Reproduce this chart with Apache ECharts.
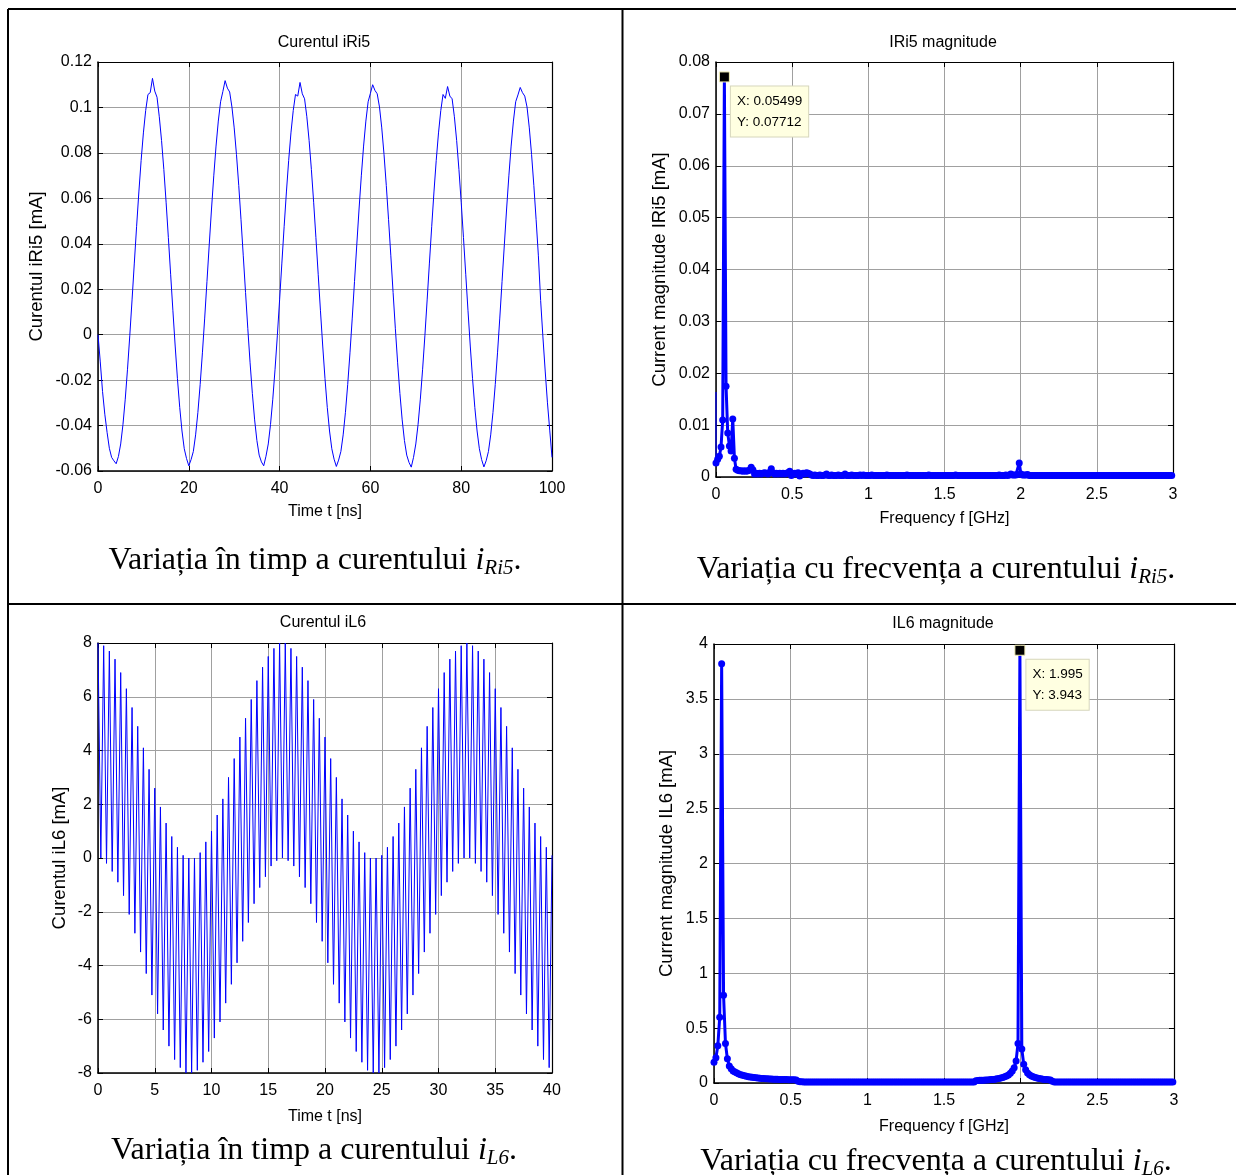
<!DOCTYPE html>
<html><head><meta charset="utf-8">
<script src="https://cdn.jsdelivr.net/npm/echarts@6/dist/echarts.min.js"></script>
<style>html,body{margin:0;padding:0;background:#fff}#c{width:1236px;height:1175px}</style>
</head><body><div id="c"></div>
<script>
// ---------- DATA ----------
// iRi5(t) [mA], sampled every 0.5 ns from 0 to 100 ns
const dtRi5 = 0.5;
const iRi5 = [
 0.0,-0.012,-0.025,-0.035,-0.043,-0.050,-0.054,-0.0555,-0.0568,-0.0536,
 -0.0481,-0.0395,-0.0284,-0.0152,-0.0005,0.0153,0.0315,0.0475,0.0628,0.0767,
 0.0888,0.0986,0.1057,0.1065,0.1128,0.1072,0.1045,0.0959,0.0854,0.0727,
 0.0583,0.0427,0.0266,0.0105,-0.0050,-0.0194,-0.0320,-0.0424,-0.0502,-0.0545,
 -0.0577,-0.0550,-0.0514,-0.0441,-0.0342,-0.0220,-0.0080,0.0073,0.0234,0.0395,
 0.0553,0.0699,0.0830,0.0940,0.1025,0.1070,0.1118,0.1085,0.1068,0.1002,
 0.0910,0.0793,0.0657,0.0506,0.0347,
 0.0185,0.0026,-0.0124,-0.0259,-0.0375,-0.0466,-0.0530,-0.0560,-0.0577,-0.0535,
 -0.0481,-0.0395,-0.0284,-0.0152,-0.0005,0.0153,0.0315,0.0475,0.0628,0.0767,
 0.0888,0.0986,0.1057,0.1050,0.1110,0.1060,0.1038,0.0959,0.0854,0.0727,
 0.0583,0.0427,0.0266,0.0105,-0.0050,-0.0194,-0.0320,-0.0424,-0.0502,-0.0548,
 -0.0580,-0.0552,-0.0514,-0.0441,-0.0342,-0.0220,-0.0080,0.0073,0.0234,0.0395,
 0.0553,0.0699,0.0830,0.0940,0.1025,0.1062,0.1100,0.1075,0.1060,0.1002,
 0.0910,0.0793,0.0657,0.0506,0.0347,
 0.0185,0.0026,-0.0124,-0.0259,-0.0375,-0.0466,-0.0530,-0.0562,-0.0583,-0.0540,
 -0.0481,-0.0395,-0.0284,-0.0152,-0.0005,0.0153,0.0315,0.0475,0.0628,0.0767,
 0.0888,0.0986,0.1057,0.1040,0.1092,0.1050,0.1038,0.0959,0.0854,0.0727,
 0.0583,0.0427,0.0266,0.0105,-0.0050,-0.0194,-0.0320,-0.0424,-0.0502,-0.0550,
 -0.0582,-0.0555,-0.0514,-0.0441,-0.0342,-0.0220,-0.0080,0.0073,0.0234,0.0395,
 0.0553,0.0699,0.0830,0.0940,0.1025,0.1055,0.1088,0.1065,0.1050,0.1002,
 0.0910,0.0793,0.0657,0.0506,0.0347,
 0.0150,-0.0010,-0.0160,-0.0300,-0.0420,-0.0540
];

// |IRi5(f)| [mA], frequency bins of 0.010998 GHz
const dfRi5 = 0.010998;
const magRi5 = [
 .0027,.0034,.0040,.0058,.0110,.07712,.0175,.0085,.0060,.0050,
 .0112,.0036,.0015,.0013,.0012,.0012,.0011,.0012,.0011,.0012,
 .0013,.0019,.0014,.0006,.0007,.0006,.0007,.0006,.0007,.0008,
 .0007,.0006,.0009,.0016,.0008,.0006,.0007,.0006,.0007,.0006,
 .0007,.0006,.0007,.0008,.0011,.0003,.0006,.0007,.0006,.0008,
 .0002,.0006,.0007,.0006,.0008,.0007,.0006,.0004,.0003,.0004,
 .0003,.0003,.0004,.0003,.0003,.0004,.0006,.0003,.0003,.0004,
 .0003,.0003,.0003,.0004,.0003,.0003,.0003,.0006,.0003,.0003,
 .0003,.0004,.0003,.0003,.0003,.0003,.0004,.0003,.0004,.0003,
 .0003,.0003,.0003,.0004,.0003,.0003,.0003,.0003,.0003,.0003,
 .0003,.0003,.0004,.0003,.0003,.0003,.0003,.0003,.0003,.0003,
 .0003,.0003,.0003,.0003,.0004,.0003,.0003,.0003,.0003,.0003,
 .0003,.0003,.0003,.0003,.0003,.0003,.0003,.0004,.0003,.0003,
 .0003,.0003,.0003,.0003,.0003,.0003,.0003,.0003,.0003,.0003,
 .0003,.0003,.0003,.0004,.0003,.0003,.0003,.0003,.0003,.0003,
 .0003,.0003,.0003,.0003,.0003,.0003,.0003,.0003,.0003,.0003,
 .0003,.0003,.0003,.0003,.0003,.0003,.0003,.0003,.0003,.0004,
 .0003,.0003,.0003,.0004,.0003,.0004,.0006,.0004,.0004,.0004,
 .0005,.0027,.0006,.0004,.0004,.0004,.0005,.0003,.0003,.0003,
 .0003,.0003,.0003,.0003,.0003,.0003,.0003,.0003,.0003,.0003,
 .0003,.0003,.0003,.0003,.0003,.0003,.0003,.0003,.0003,.0003,
 .0003,.0003,.0003,.0003,.0003,.0003,.0003,.0003,.0003,.0003,
 .0003,.0003,.0003,.0003,.0003,.0003,.0003,.0003,.0003,.0003,
 .0003,.0003,.0003,.0003,.0003,.0003,.0003,.0003,.0003,.0003,
 .0003,.0003,.0003,.0003,.0003,.0003,.0003,.0003,.0003,.0003,
 .0003,.0003,.0003,.0003,.0003,.0003,.0003,.0003,.0003,.0003,
 .0003,.0003,.0003,.0003,.0003,.0003,.0003,.0003,.0003,.0003,
 .0003,.0003,.0003
];
const dcRi5 = [0.0027, 0.0164];          // thin trace at f = 0
const tipRi5 = {x: 0.05499, y: 0.07712}; // data tip

// iL6(t) [mA], sampled every 0.25 ns from 0 to 40 ns
const dtL6 = 0.25;
const iL6 = [
 8.0,0.0,7.9,-0.2,7.7,-0.5,7.4,-0.9,6.9,-1.4,
 6.3,-2.1,5.6,-2.8,4.9,-3.5,4.1,-4.3,3.3,-5.1,
 2.6,-5.8,1.9,-6.4,1.3,-7.0,0.8,-7.5,0.4,-7.8,
 0.1,-8.0,0.0,-8.0,0.0,-7.9,0.2,-7.6,0.6,-7.2,
 1.0,-6.7,1.6,-6.1,2.2,-5.4,3.0,-4.7,3.7,-3.9,
 4.5,-3.1,5.2,-2.4,5.9,-1.7,6.6,-1.1,7.1,-0.7,
 7.5,-0.3,7.8,-0.1,8.0,0.0,8.0,-0.1,7.8,-0.3,
 7.5,-0.7,7.1,-1.1,6.6,-1.7,5.9,-2.4,5.2,-3.1,
 4.5,-3.9,3.7,-4.7,3.0,-5.4,2.2,-6.1,1.6,-6.7,
 1.0,-7.2,0.6,-7.6,0.2,-7.9,0.0,-8.0,0.0,-8.0,
 0.1,-7.8,0.4,-7.5,0.8,-7.0,1.3,-6.4,1.9,-5.8,
 2.6,-5.1,3.3,-4.3,4.1,-3.5,4.9,-2.8,5.6,-2.1,
 6.3,-1.4,6.9,-0.9,7.4,-0.5,7.7,-0.2,7.9,0.0,
 8.0,0.0,7.9,-0.2,7.7,-0.5,7.4,-0.9,6.9,-1.4,
 6.3,-2.1,5.6,-2.8,4.9,-3.5,4.1,-4.3,3.3,-5.1,
 2.6,-5.8,1.9,-6.4,1.3,-7.0,0.8,-7.5,0.4,-7.8,
 0.1
];

// |IL6(f)| [mA], frequency bins of 0.012469 GHz
const dfL6 = 0.012469;
const magL6 = [
 .19,.23,.34,.60,3.82,.80,.36,.22,.155,.13,
 .11,.10,.09,.082,.076,.071,.066,.062,.058,.055,
 .052,.049,.047,.045,.043,.041,.040,.039,.038,.037,
 .036,.035,.034,.034,.033,.032,.032,.031,.031,.030,
 .030,.029,.029,.028,.015,.012,.011,.010,.010,.010,
 .01,.01,.01,.01,.01,.01,.01,.01,.01,.01,
 .01,.01,.01,.01,.01,.01,.01,.01,.01,.01,
 .01,.01,.01,.01,.01,.01,.01,.01,.01,.01,
 .01,.01,.01,.01,.01,.01,.01,.01,.01,.01,
 .01,.01,.01,.01,.01,.01,.01,.01,.01,.01,
 .01,.01,.01,.01,.01,.01,.01,.01,.01,.01,
 .01,.01,.01,.01,.01,.01,.01,.01,.01,.01,
 .01,.01,.01,.01,.01,.01,.01,.01,.01,.01,
 .01,.01,.01,.01,.01,.01,.01,
 .020,.022,.024,.025,.026,.027,.028,.030,.031,.033,.035,.038,.041,.045,
 .050,.056,.064,.074,.088,.11,.14,.20,.36,3.943,
 .31,.17,.12,.092,.075,.064,.056,.050,.045,.041,.038,.035,.033,.031,.029,.027,.015,
 .01,.01,.01,.01,.01,.01,.01,.01,.01,.01,
 .01,.01,.01,.01,.01,.01,.01,.01,.01,.01,
 .01,.01,.01,.01,.01,.01,.01,.01,.01,.01,
 .01,.01,.01,.01,.01,.01,.01,.01,.01,.01,
 .01,.01,.01,.01,.01,.01,.01,.01,.01,.01,
 .01,.01,.01,.01,.01,.01,.01,.01,.01,.01,
 .01,.01,.01
];
const tipL6 = {x: 1.995, y: 3.943};

// tick values
const xTicksTimeRi5 = [0, 20, 40, 60, 80, 100];
const yTicksRi5 = [-0.06, -0.04, -0.02, 0, 0.02, 0.04, 0.06, 0.08, 0.1, 0.12];
const xTicksFreq = [0, 0.5, 1, 1.5, 2, 2.5, 3];
const yTicksMagRi5 = [0, 0.01, 0.02, 0.03, 0.04, 0.05, 0.06, 0.07, 0.08];
const xTicksTimeL6 = [0, 5, 10, 15, 20, 25, 30, 35, 40];
const yTicksL6 = [-8, -6, -4, -2, 0, 2, 4, 6, 8];
const yTicksMagL6 = [0, 0.5, 1, 1.5, 2, 2.5, 3, 3.5, 4];

// ---------- CHART ----------
const FN = "'Liberation Sans',Arial,sans-serif";
const FR = "'Liberation Sans',Arial,sans-serif";
const FS = "'Liberation Serif','Times New Roman',serif";
const BLUE = '#0000ff';
const GRIDC = '#a0a0a0';
const FSZ = 16;

function fmt(v){ const r = Math.round(v*1e6)/1e6; return String(r === 0 ? 0 : r); }
function rng(t){ return {min: t[0], max: t[t.length-1], interval: +(t[1]-t[0]).toFixed(6)}; }

const panels = [
 {grid:{left:98, top:62, width:454, height:409}, xt:xTicksTimeRi5, yt:yTicksRi5,
  xName:'Time t [ns]', yName:'Curentul iRi5 [mA]', xGap:33, yGap:52,
  title:'Curentul iRi5', tx:324, ty:43},
 {grid:{left:716, top:62, width:457, height:415}, xt:xTicksFreq, yt:yTicksMagRi5,
  xName:'Frequency f [GHz]', yName:'Current magnitude IRi5 [mA]', xGap:34, yGap:47,
  title:'IRi5 magnitude', tx:943, ty:43},
 {grid:{left:98, top:643, width:454, height:430}, xt:xTicksTimeL6, yt:yTicksL6,
  xName:'Time t [ns]', yName:'Curentul iL6 [mA]', xGap:36, yGap:29,
  title:'Curentul iL6', tx:323, ty:623},
 {grid:{left:714, top:644, width:460, height:439}, xt:xTicksFreq, yt:yTicksMagL6,
  xName:'Frequency f [GHz]', yName:'Current magnitude IL6 [mA]', xGap:36, yGap:38,
  title:'IL6 magnitude', tx:943, ty:624}
];

const grid = [], xAxis = [], yAxis = [], graphic = [];
panels.forEach((p, i) => {
  grid.push(Object.assign({containLabel:false, outerBoundsMode:'none'}, p.grid));
  const xr = rng(p.xt), yr = rng(p.yt);
  const tick = {inside:true, length:5, lineStyle:{color:'#000', width:1}};
  xAxis.push(Object.assign({type:'value', gridIndex:i, position:'bottom',
    name:p.xName, nameLocation:'middle', nameGap:p.xGap, nameMoveOverlap:false,
    nameTextStyle:{fontFamily:FN, fontSize:FSZ, color:'#000'},
    axisLine:{onZero:false, lineStyle:{color:'#000', width:1.5}},
    axisTick:tick,
    axisLabel:{fontFamily:FN, fontSize:FSZ, color:'#000', margin:10, formatter:fmt},
    splitLine:{show:true, lineStyle:{color:GRIDC, width:1}}}, xr));
  xAxis.push(Object.assign({type:'value', gridIndex:i, position:'top',
    axisLine:{onZero:false, lineStyle:{color:'#000', width:1.2}},
    axisTick:tick, axisLabel:{show:false}, splitLine:{show:false}}, xr));
  yAxis.push(Object.assign({type:'value', gridIndex:i, position:'left',
    name:p.yName, nameLocation:'middle', nameRotate:90, nameGap:p.yGap, nameMoveOverlap:false,
    nameTextStyle:{fontFamily:FR, fontSize:18.5, color:'#000'},
    axisLine:{onZero:false, lineStyle:{color:'#000', width:1.5}},
    axisTick:tick,
    axisLabel:{fontFamily:FN, fontSize:FSZ, color:'#000', margin:6, formatter:fmt},
    splitLine:{show:true, lineStyle:{color:GRIDC, width:1}}}, yr));
  yAxis.push(Object.assign({type:'value', gridIndex:i, position:'right',
    axisLine:{onZero:false, lineStyle:{color:'#000', width:1.2}},
    axisTick:tick, axisLabel:{show:false}, splitLine:{show:false}}, yr));
  graphic.push({type:'text', x:p.tx, y:p.ty, silent:true,
    style:{text:p.title, fontFamily:FN, fontSize:FSZ, fill:'#000', align:'center', verticalAlign:'middle'}});
});

// table borders
const borders = [[8,9,1236,9],[8,9,8,1175],[622.5,9,622.5,1175],[8,604,1236,604]];
borders.forEach(b => graphic.push({type:'line', silent:true,
  shape:{x1:b[0], y1:b[1], x2:b[2], y2:b[3]}, style:{stroke:'#000', lineWidth:2}}));

// captions
const capRich = {
  n:{fontFamily:FS, fontSize:32, lineHeight:36, fill:'#000'},
  i:{fontFamily:FS, fontSize:32, fontStyle:'italic', lineHeight:36, fill:'#000'},
  s:{fontFamily:FS, fontSize:21, fontStyle:'italic', lineHeight:21, verticalAlign:'bottom', fill:'#000'}
};
const captions = [
  {t:'{n|Variația în timp a curentului }{i|i}{s|Ri5}{n|.}', x:315, y:561},
  {t:'{n|Variația cu frecvența a curentului }{i|i}{s|Ri5}{n|.}', x:936, y:570},
  {t:'{n|Variația în timp a curentului }{i|i}{s|L6}{n|.}', x:314, y:1151},
  {t:'{n|Variația cu frecvența a curentului }{i|i}{s|L6}{n|.}', x:936, y:1162}
];
captions.forEach(c => graphic.push({type:'text', x:c.x, y:c.y, silent:true,
  style:{text:c.t, rich:capRich, align:'center', verticalAlign:'middle'}}));

function tip(t){
  return {symbol:'rect', symbolSize:10, silent:true, animation:false,
    itemStyle:{color:'#000', borderColor:'#f3efb8', borderWidth:1},
    data:[{coord:[t.x, t.y], value:t.y}],
    label:{show:true, position:[12,15], align:'left', verticalAlign:'top',
      formatter:'X: ' + t.x + '\nY: ' + t.y,
      fontFamily:FN, fontSize:13.5, lineHeight:21, color:'#000',
      backgroundColor:'#ffffe1', borderColor:'#d6d6bc', borderWidth:1, padding:[4,6,4,6]}};
}

const series = [
  {type:'line', xAxisIndex:0, yAxisIndex:0, data:iRi5.map((v,k)=>[k*dtRi5, v]),
   showSymbol:false, lineStyle:{color:BLUE, width:1}, itemStyle:{color:BLUE}, clip:false, silent:true},
  {type:'line', xAxisIndex:2, yAxisIndex:2, data:dcRi5.map(v=>[0, v]),
   showSymbol:false, lineStyle:{color:BLUE, width:1.2}, itemStyle:{color:BLUE}, clip:false, silent:true},
  {type:'line', xAxisIndex:2, yAxisIndex:2, data:magRi5.map((v,k)=>[k*dfRi5, v]),
   symbol:'circle', symbolSize:7, showSymbol:true, lineStyle:{color:BLUE, width:3},
   itemStyle:{color:BLUE}, clip:false, silent:true, markPoint:tip(tipRi5)},
  {type:'line', xAxisIndex:4, yAxisIndex:4, data:iL6.map((v,k)=>[k*dtL6, v]),
   showSymbol:false, lineStyle:{color:BLUE, width:1}, itemStyle:{color:BLUE}, clip:false, silent:true},
  {type:'line', xAxisIndex:6, yAxisIndex:6, data:magL6.map((v,k)=>[k*dfL6, v]),
   symbol:'circle', symbolSize:7, showSymbol:true, lineStyle:{color:BLUE, width:3},
   itemStyle:{color:BLUE}, clip:false, silent:true, markPoint:tip(tipL6)}
];

const chart = echarts.init(document.getElementById('c'), null, {renderer:'canvas', width:1236, height:1175});
chart.setOption({
  animation:false,
  backgroundColor:'#fff',
  textStyle:{fontFamily:FN},
  grid, xAxis, yAxis, series, graphic
});
</script>
</body></html>
